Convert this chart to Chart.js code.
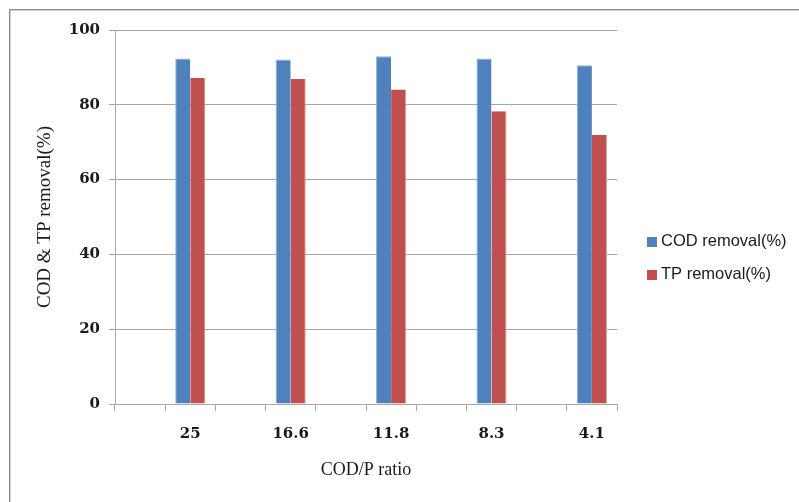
<!DOCTYPE html>
<html>
<head>
<meta charset="utf-8">
<script src="https://cdn.jsdelivr.net/npm/chart.js@4/dist/chart.umd.min.js"></script>
<style>
  html, body { margin: 0; padding: 0; background: #ffffff; }
  #wrap { width: 799px; height: 502px; position: relative; }
</style>
</head>
<body>
<div id="wrap"><canvas id="chart" width="799" height="502"></canvas></div>
<script>
// COD/P ratios tested and removal efficiencies (%)
const ratios = ['25', '16.6', '11.8', '8.3', '4.1'];
const codRemoval = [92.4, 92.1, 93.0, 92.4, 90.6];
const tpRemoval = [87.2, 86.9, 84.1, 78.3, 71.9];
const yTicks = [0, 20, 40, 60, 80, 100];

// The category axis alternates an empty slot before each ratio
const slotLabels = [];
const codSlots = [];
const tpSlots = [];
ratios.forEach((r, i) => {
  slotLabels.push('', r);
  codSlots.push(null, codRemoval[i]);
  tpSlots.push(null, tpRemoval[i]);
});

const AXIS_GREY = '#a6a6a6';
const BLUE = '#4f81bd';
const RED = '#c0504d';

// Frame around the chart and a side legend
const decorations = {
  id: 'decorations',
  beforeDraw(chart) {
    const ctx = chart.ctx;
    ctx.save();
    ctx.fillStyle = '#ffffff';
    ctx.fillRect(0, 0, chart.width, chart.height);
    ctx.strokeStyle = '#8c8c8c';
    ctx.lineWidth = 1;
    ctx.strokeRect(9.5, 9.5, chart.width + 20, chart.height + 20);
    ctx.strokeStyle = '#d0d0d0';
    ctx.strokeRect(10.5, 10.5, chart.width + 20, chart.height + 20);
    ctx.restore();
  },
  afterDraw(chart) {
    const ctx = chart.ctx;
    ctx.save();
    ctx.font = '16.5px "Liberation Sans", Arial, sans-serif';
    ctx.textBaseline = 'middle';
    const rows = [241, 274];
    chart.data.datasets.forEach((ds, i) => {
      const y = rows[i];
      ctx.fillStyle = ds.backgroundColor;
      ctx.fillRect(647, y - 4, 10, 10);
      ctx.fillStyle = '#1a1a1a';
      ctx.fillText(ds.label, 661, y);
    });
    ctx.restore();
  }
};

new Chart(document.getElementById('chart'), {
  type: 'bar',
  data: {
    labels: slotLabels,
    datasets: [
      {
        label: 'COD removal(%)',
        data: codSlots,
        backgroundColor: BLUE,
        borderColor: '#8fb0d9',
        borderWidth: { top: 1, left: 1, right: 0, bottom: 0 },
        borderSkipped: 'bottom'
      },
      {
        label: 'TP removal(%)',
        data: tpSlots,
        backgroundColor: RED,
        borderColor: '#e09a98',
        borderWidth: { top: 0, left: 0, right: 1, bottom: 0 },
        borderSkipped: 'bottom'
      }
    ]
  },
  options: {
    responsive: false,
    animation: false,
    events: [],
    layout: { padding: { top: 30, right: 182, left: 0, bottom: 0 } },
    datasets: {
      bar: { categoryPercentage: 0.6, barPercentage: 1.0, skipNull: false }
    },
    plugins: {
      legend: { display: false },
      tooltip: { enabled: false }
    },
    scales: {
      x: {
        afterFit(scale) { scale.height = 98; },
        grid: {
          display: true,
          drawOnChartArea: false,
          drawTicks: true,
          offset: true,
          tickLength: 7,
          color: AXIS_GREY
        },
        border: { display: true, color: AXIS_GREY, width: 1 },
        ticks: {
          autoSkip: false,
          maxRotation: 0,
          padding: 14,
          color: '#1a1a1a',
          font: { family: '"DejaVu Serif", serif', size: 15, weight: 'bold' }
        },
        title: {
          display: true,
          text: 'COD/P ratio',
          color: '#1a1a1a',
          font: { family: '"Liberation Serif", "Times New Roman", serif', size: 18 },
          padding: { top: 0, bottom: 21 }
        }
      },
      y: {
        min: 0,
        max: 100,
        afterFit(scale) { scale.width = 115; },
        afterBuildTicks(scale) { scale.ticks = yTicks.map(v => ({ value: v })); },
        grid: {
          color: AXIS_GREY,
          tickLength: 6,
          drawTicks: true
        },
        border: { display: true, color: AXIS_GREY, width: 1 },
        ticks: {
          padding: 9,
          color: '#1a1a1a',
          font: { family: '"DejaVu Serif", serif', size: 15, weight: 'bold' }
        },
        title: {
          display: true,
          text: 'COD & TP removal(%)',
          color: '#1a1a1a',
          font: { family: '"Liberation Serif", "Times New Roman", serif', size: 19 },
          padding: { top: 34, bottom: 0 }
        }
      }
    }
  },
  plugins: [decorations]
});
</script>
</body>
</html>
